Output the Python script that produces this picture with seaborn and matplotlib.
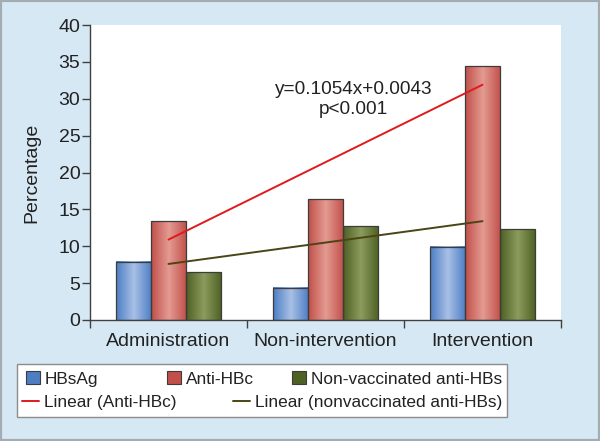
import numpy as np
import pandas as pd
import matplotlib
matplotlib.use("Agg")
import matplotlib.pyplot as plt
import seaborn as sns
from matplotlib.colors import LinearSegmentedColormap
from matplotlib.patches import Patch, Rectangle
from matplotlib.lines import Line2D

# data
groups = ['Administration', 'Non-intervention', 'Intervention']
series = ['HBsAg', 'Anti-HBc', 'Non-vaccinated anti-HBs']
hbsag = [7.9, 4.4, 9.9]
anti_hbc = [13.4, 16.4, 34.4]
nonvacc = [6.5, 12.7, 12.3]
y_ticks = [0, 5, 10, 15, 20, 25, 30, 35, 40]
equation = 'y=0.1054x+0.0043\np<0.001'

# edge / centre colours for the shaded bars
dark = {'HBsAg': '#4d7ec4', 'Anti-HBc': '#c24f4a', 'Non-vaccinated anti-HBs': '#4d6123'}
light = {'HBsAg': '#a9c0e6', 'Anti-HBc': '#e39b92', 'Non-vaccinated anti-HBs': '#8c9b5e'}
red_line = '#e0191c'
olive_line = '#4b4415'

df = pd.DataFrame({
    'group': groups * 3,
    'series': [s for s in series for _ in groups],
    'value': hbsag + anti_hbc + nonvacc,
})

sns.set_style('white')
plt.rcParams['font.family'] = ['Liberation Sans', 'DejaVu Sans']

fig = plt.figure(figsize=(6, 4.41), dpi=100)
fig.patch.set_facecolor('#d6e8f4')
ax = fig.add_axes([90 / 600, 1 - 320 / 441, 471 / 600, 295 / 441])
ax.set_facecolor('white')

sns.barplot(data=df, x='group', y='value', hue='series', order=groups, hue_order=series,
            palette=dark, width=0.67, edgecolor='#3c3c3c', linewidth=0.9,
            legend=False, ax=ax)

# horizontal gradient inside each bar
t = np.linspace(0, 1, 80)[None, :]
for cont, name in zip(ax.containers, series):
    cmap = LinearSegmentedColormap.from_list(name, [dark[name], light[name], dark[name]])
    for rect in cont:
        x0, w, h = rect.get_x(), rect.get_width(), rect.get_height()
        ax.imshow(t, cmap=cmap, extent=[x0, x0 + w, 0, h], aspect='auto',
                  interpolation='bilinear', zorder=2)
        rect.set_facecolor('none')
        rect.set_zorder(3)

# linear trend lines through the group centres
xs = np.arange(len(groups))
for vals, col in [(anti_hbc, red_line), (nonvacc, olive_line)]:
    k, b = np.polyfit(xs, vals, 1)
    ax.plot([xs[0], xs[-1]], [k * xs[0] + b, k * xs[-1] + b], color=col, lw=1.4, zorder=4)

ax.text(1.18, 29.9, equation, ha='center', va='center', fontsize=13.7,
        color='#222222', linespacing=1.25)

ax.set_xlim(-0.5, 2.5)
ax.set_ylim(0, 40)
ax.set_yticks(y_ticks)
ax.set_xlabel('')
ax.set_ylabel('Percentage', fontsize=14, color='#222222', labelpad=13)
ax.set_xticks([-0.5, 0.5, 1.5, 2.5], minor=True)
ax.tick_params(axis='x', which='major', length=0, labelsize=14, labelcolor='#222222', pad=9)
ax.tick_params(axis='x', which='minor', length=6, width=1, color='#404040', direction='out')
ax.tick_params(axis='y', length=6, width=1, color='#404040', direction='out',
               labelsize=14, labelcolor='#222222', pad=1)
ax.yaxis.set_ticks_position('left')
ax.xaxis.set_ticks_position('bottom')
sns.despine(ax=ax)
for sp in ['left', 'bottom']:
    ax.spines[sp].set_color('#404040')
    ax.spines[sp].set_linewidth(1)

# legend box with entries placed like the original
fig.patches.append(Rectangle((17 / 600, 1 - 417 / 441), 490 / 600, 53 / 441,
                             transform=fig.transFigure, facecolor='white',
                             edgecolor='#8c8c8c', lw=1, zorder=0))
entries = [
    (Patch(facecolor=dark['HBsAg'], edgecolor='#3c3c3c', lw=0.8), series[0], 26, 379, 0.8),
    (Patch(facecolor=dark['Anti-HBc'], edgecolor='#3c3c3c', lw=0.8), series[1], 167, 379, 0.8),
    (Patch(facecolor=dark['Non-vaccinated anti-HBs'], edgecolor='#3c3c3c', lw=0.8), series[2], 292, 379, 0.8),
    (Line2D([], [], color=red_line, lw=1.4), 'Linear (Anti-HBc)', 22, 402, 1.0),
    (Line2D([], [], color=olive_line, lw=1.4), 'Linear (nonvaccinated anti-HBs)', 233, 402, 1.0),
]
for handle, label, px, py, hl in entries:
    leg = fig.legend([handle], [label], loc='center left',
                     bbox_to_anchor=(px / 600, 1 - py / 441), frameon=False,
                     fontsize=12.4, borderpad=0, borderaxespad=0,
                     handlelength=hl, handleheight=0.8, handletextpad=0.3)
    for txt in leg.get_texts():
        txt.set_color('#222222')

fig.patches.append(Rectangle((0, 0), 1, 1, transform=fig.transFigure, fill=False,
                             edgecolor='#a3abb3', lw=3))

fig.savefig('out.png', dpi=100, facecolor=fig.get_facecolor())
